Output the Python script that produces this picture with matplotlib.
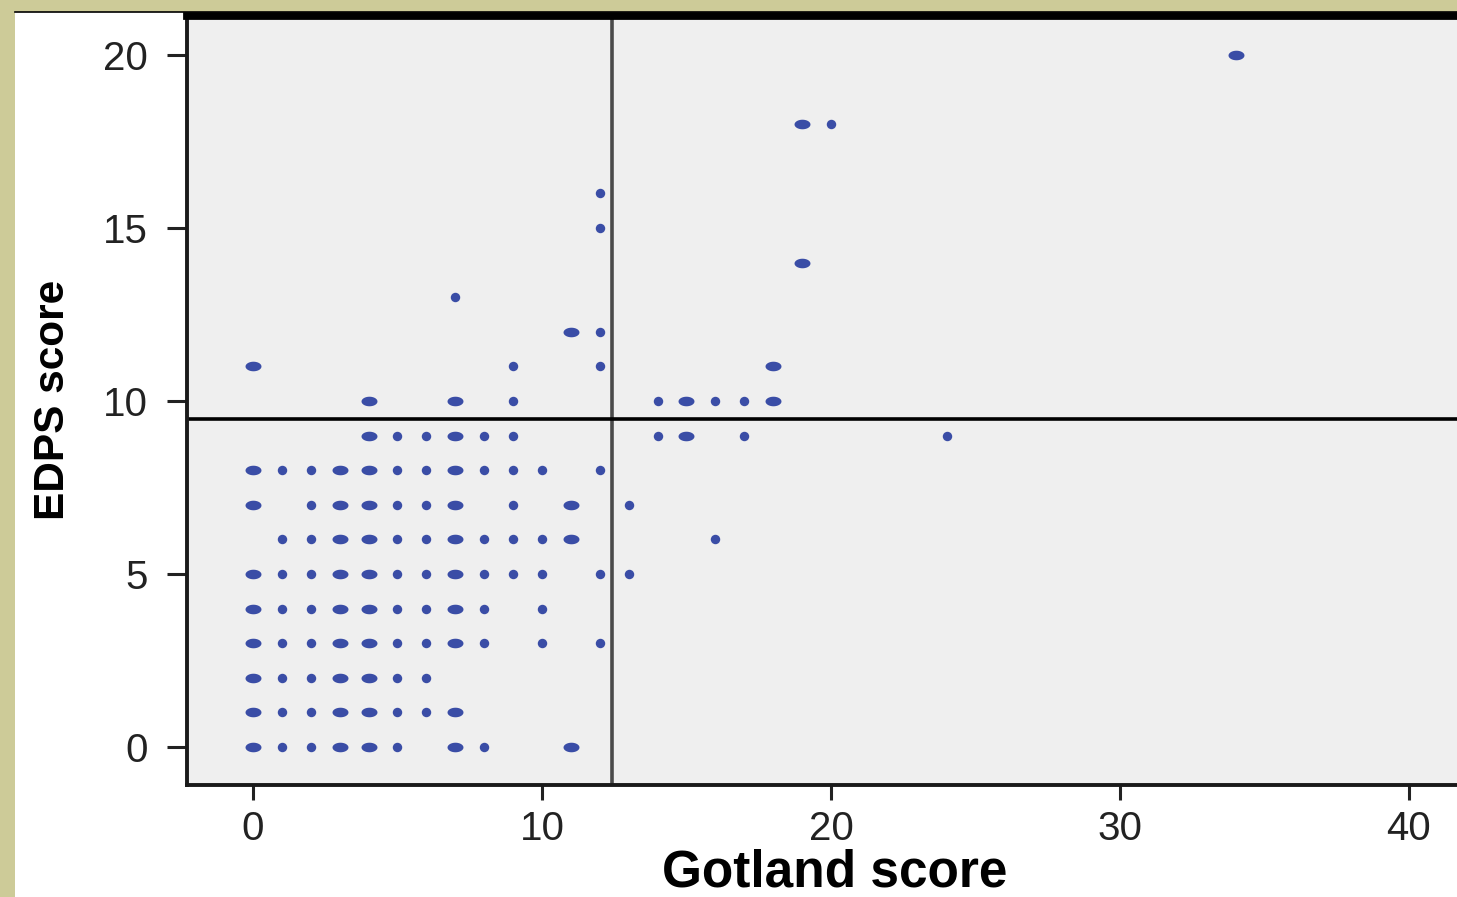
import matplotlib
matplotlib.use("Agg")
import matplotlib.pyplot as plt
from matplotlib.path import Path
from matplotlib.lines import Line2D
import numpy as np

# Gotland score (x), EDPS score (y); stacked = point drawn wider (several cases)
gotland = [0, 1, 2, 3, 4, 5, 7, 8, 11,
           0, 1, 2, 3, 4, 5, 6, 7,
           0, 1, 2, 3, 4, 5, 6,
           0, 1, 2, 3, 4, 5, 6, 7, 8, 10, 12,
           0, 1, 2, 3, 4, 5, 6, 7, 8, 10,
           0, 1, 2, 3, 4, 5, 6, 7, 8, 9, 10, 12, 13,
           1, 2, 3, 4, 5, 6, 7, 8, 9, 10, 11, 16,
           0, 2, 3, 4, 5, 6, 7, 9, 11, 13,
           0, 1, 2, 3, 4, 5, 6, 7, 8, 9, 10, 12,
           4, 5, 6, 7, 8, 9, 14, 15, 17, 24,
           4, 7, 9, 14, 15, 16, 17, 18,
           0, 9, 12, 18,
           11, 12,
           7,
           19,
           12,
           12,
           19, 20,
           34]
edps = [0] * 9 + [1] * 8 + [2] * 7 + [3] * 11 + [4] * 10 + [5] * 13 + \
       [6] * 12 + [7] * 10 + [8] * 12 + [9] * 10 + [10] * 8 + [11] * 4 + \
       [12] * 2 + [13] + [14] + [15] + [16] + [18] * 2 + [20]
stacked = [1, 0, 0, 1, 1, 0, 1, 0, 1,
           1, 0, 0, 1, 1, 0, 0, 1,
           1, 0, 0, 1, 1, 0, 0,
           1, 0, 0, 1, 1, 0, 0, 1, 0, 0, 0,
           1, 0, 0, 1, 1, 0, 0, 1, 0, 0,
           1, 0, 0, 1, 1, 0, 0, 1, 0, 0, 0, 0, 0,
           0, 0, 1, 1, 0, 0, 1, 0, 0, 0, 1, 0,
           1, 0, 1, 1, 0, 0, 1, 0, 1, 0,
           1, 0, 0, 1, 1, 0, 0, 1, 0, 0, 0, 0,
           1, 0, 0, 1, 0, 0, 0, 1, 0, 0,
           1, 1, 0, 0, 1, 0, 0, 1,
           1, 0, 0, 1,
           1, 0,
           0,
           1,
           0,
           0,
           1, 0,
           1]
x_cut = 12.42
y_cut = 9.48
xticks = [0, 10, 20, 30, 40]
yticks = [0, 5, 10, 15, 20]

plt.rcParams['font.family'] = ['Liberation Sans', 'DejaVu Sans']

fig = plt.figure(figsize=(14.57, 8.97), dpi=100)
fig.patch.set_facecolor('#cdcb98')
W, H = 1457.0, 897.0

# white panel behind the chart
fig.patches.append(plt.Rectangle((15 / W, 0), 1, 1 - 12 / H, transform=fig.transFigure,
                                 facecolor='white', edgecolor='none', zorder=-10))
fig.add_artist(Line2D([15 / W, 1], [1 - 12.5 / H, 1 - 12.5 / H], color='black', lw=1.2,
                      zorder=-5))

ax = fig.add_axes([187 / W, 1 - 785 / H, (1524.6 - 187) / W, (785 - 16.5) / H])
ax.set_facecolor('#efefef')
ax.set_xlim(-2.28, 44)
ax.set_ylim(-1.1, 21.11)

gx = np.array(gotland)
gy = np.array(edps)
st = np.array(stacked, dtype=bool)

t = np.linspace(0, 2 * np.pi, 40)
ellipse = Path(np.column_stack([np.cos(t), 0.6 * np.sin(t)]), closed=True)

dot = '#3a4da6'
ax.plot(gx[~st], gy[~st], 'o', ms=6.8, color=dot, mec='none', zorder=3)
ax.plot(gx[st], gy[st], ls='none', marker=ellipse, ms=11.5, color=dot, mec='none', zorder=3)

ax.axvline(x_cut, color='#4a4a4a', lw=2.6, zorder=2)
ax.axhline(y_cut, color='black', lw=2.6, zorder=2)

for side in ['left', 'bottom']:
    ax.spines[side].set_linewidth(2.8)
    ax.spines[side].set_color('#1a1a1a')
ax.spines['top'].set_linewidth(5.6)
ax.spines['top'].set_color('black')
ax.spines['right'].set_visible(False)

ax.set_xticks(xticks)
ax.set_yticks(yticks)
ax.tick_params(axis='x', length=11, width=2.2, pad=7, labelsize=29, colors='#222222')
ax.tick_params(axis='y', length=14.5, width=2.2, pad=14, labelsize=29, colors='#222222')

fig.text(52.5 / W, 1 - 400 / H, 'EDPS score', rotation=90, ha='center', va='center',
         fontsize=30.5, fontweight='bold', color='black')
fig.text(835 / W, 1 - 886 / H, 'Gotland score', ha='center', va='baseline',
         fontsize=37, fontweight='bold', color='black')

fig.savefig('out.png', dpi=100, facecolor=fig.get_facecolor())
